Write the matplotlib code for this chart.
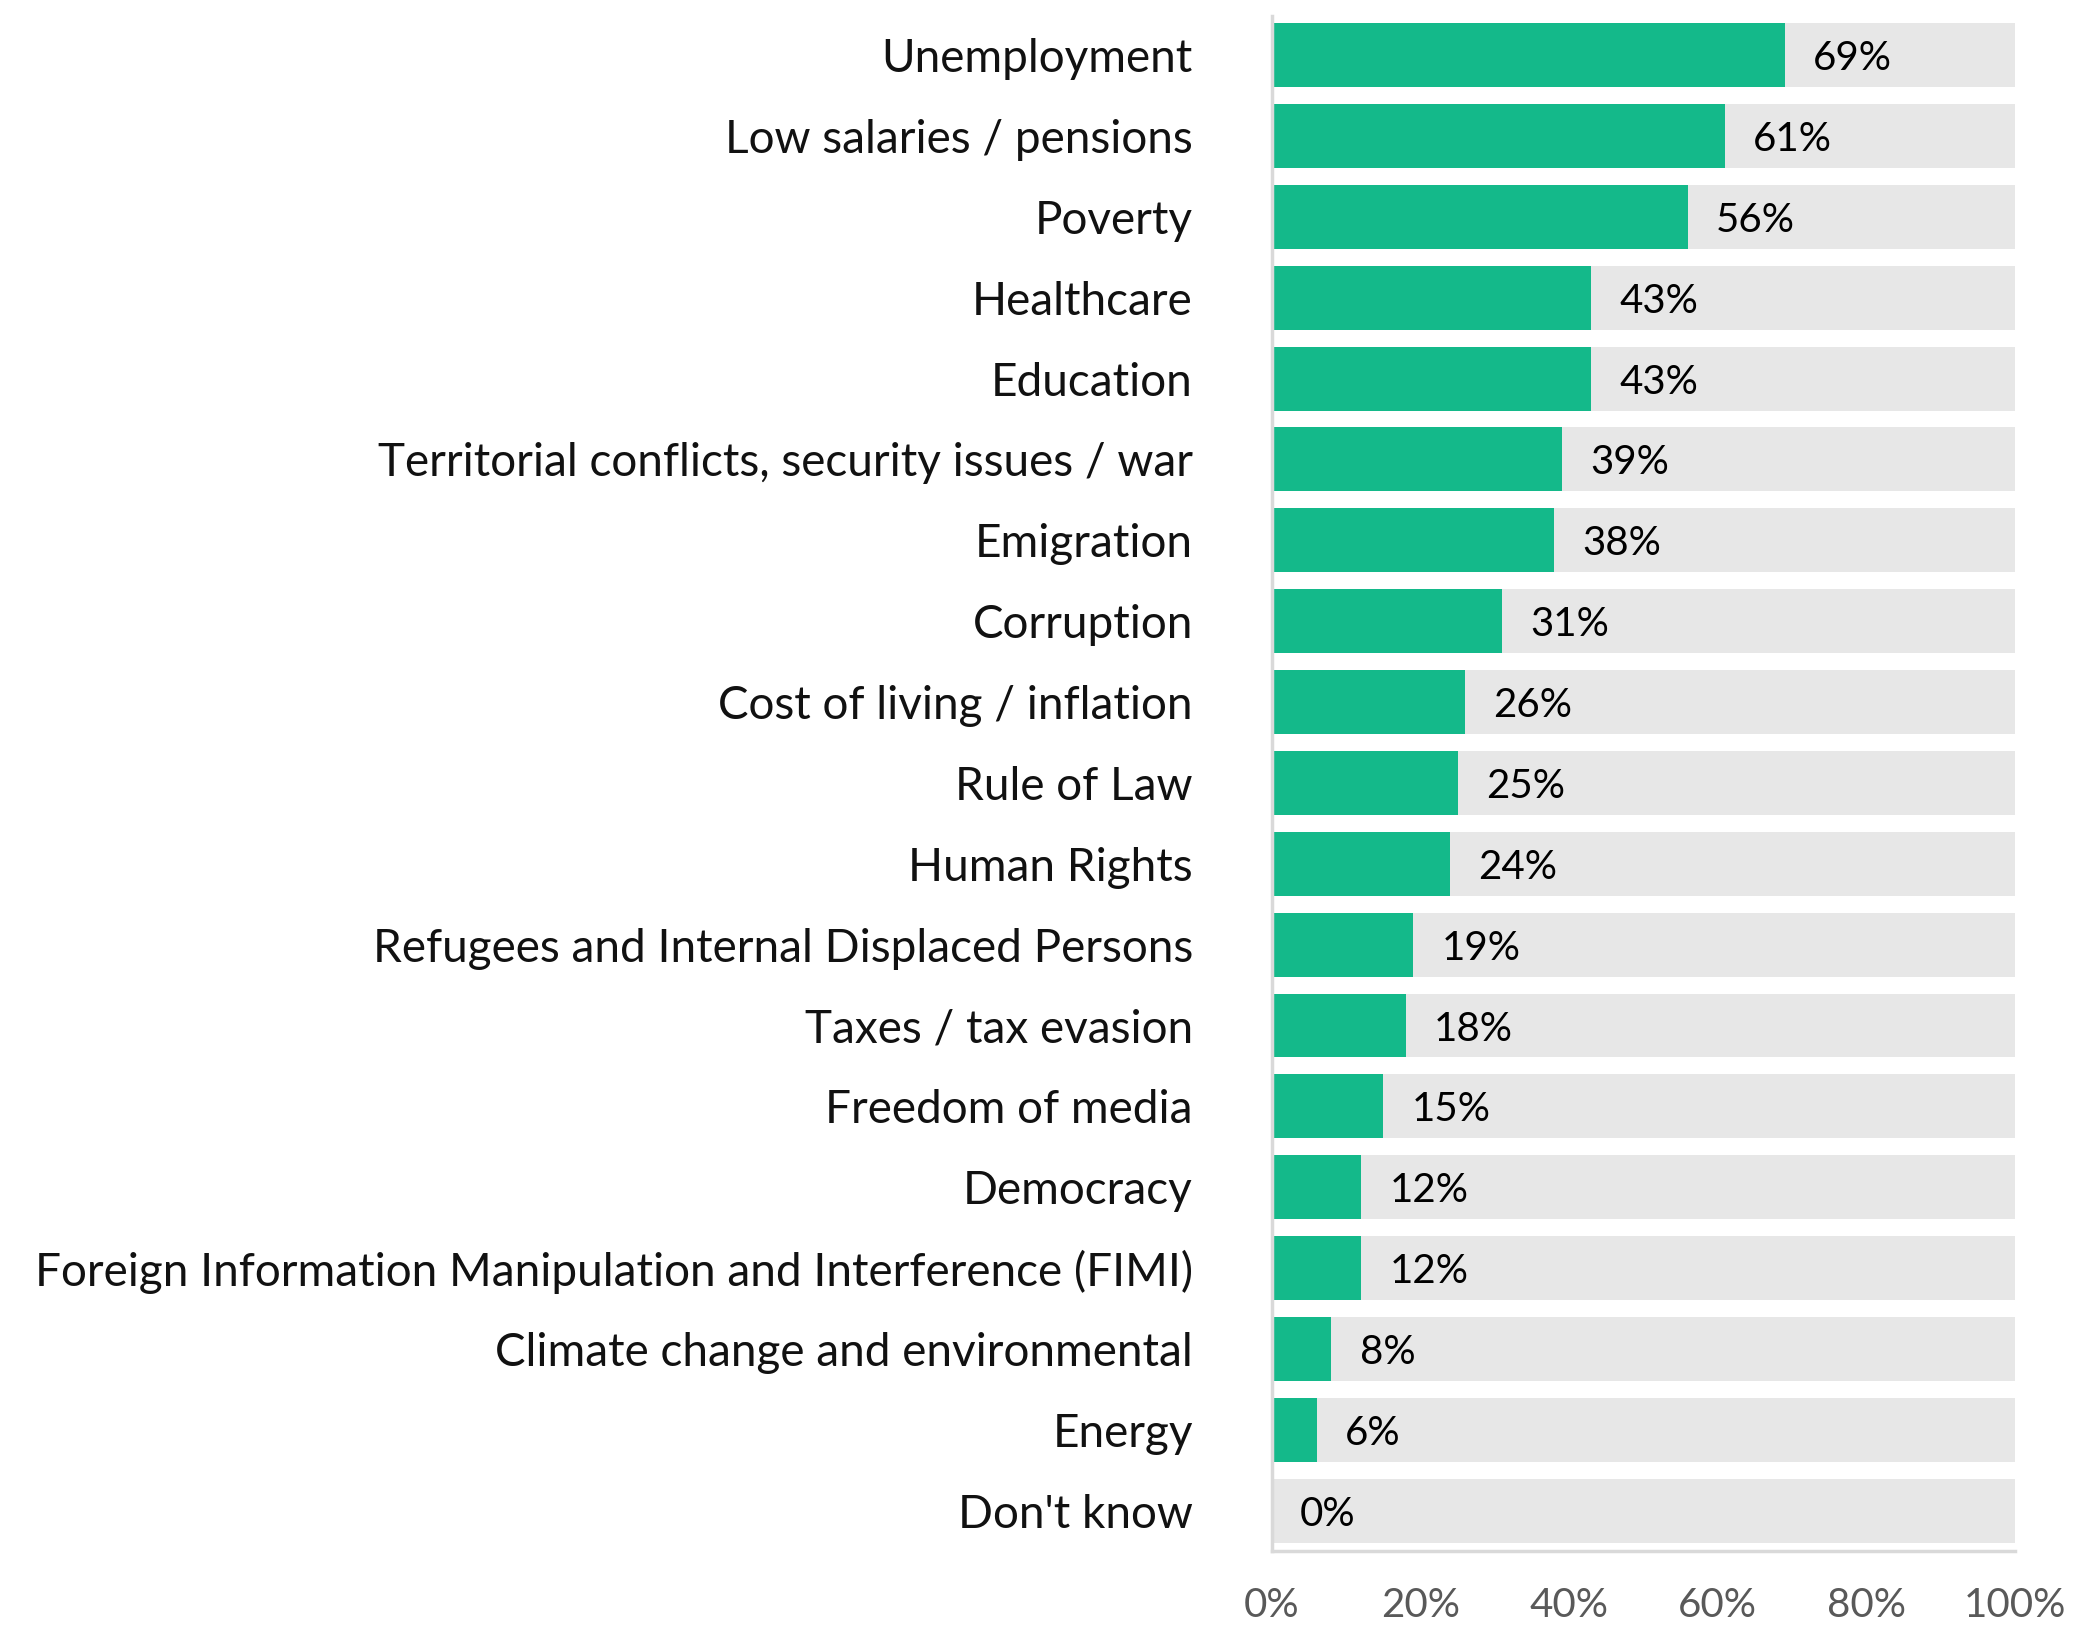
import matplotlib.pyplot as plt

categories = [
    "Unemployment",
    "Low salaries / pensions",
    "Poverty",
    "Healthcare",
    "Education",
    "Territorial conflicts, security issues / war",
    "Emigration",
    "Corruption",
    "Cost of living / inflation",
    "Rule of Law",
    "Human Rights",
    "Refugees and Internal Displaced Persons",
    "Taxes / tax evasion",
    "Freedom of media",
    "Democracy",
    "Foreign Information Manipulation and Interference (FIMI)",
    "Climate change and environmental",
    "Energy",
    "Don't know",
]
values = [69, 61, 56, 43, 43, 39, 38, 31, 26, 25, 24, 19, 18, 15, 12, 12, 8, 6, 0]
x_ticks = [0, 20, 40, 60, 80, 100]
x_tick_labels = [f"{t}%" for t in x_ticks]

GREEN = "#14b98a"
TRACK = "#e7e7e7"
AXIS = "#d9d9d9"

plt.rcParams["font.family"] = ["Lato", "DejaVu Sans"]

fig = plt.figure(figsize=(20.75, 16.26), dpi=100)
ax = fig.add_axes([0.613, 0.046, 0.358, 0.944])

y = list(range(len(categories)))
ax.barh(y, [100] * len(y), height=0.79, color=TRACK, zorder=1)
ax.barh(y, values, height=0.79, color=GREEN, zorder=2)

for yi, v in zip(y, values):
    ax.text(v + 3.8, yi, f"{v}%", va="center_baseline", ha="left",
            fontsize=29, color="black", zorder=3)

ax.set_xlim(0, 100)
ax.set_ylim(len(y) - 0.5, -0.48)
ax.set_yticks(y)
ax.set_yticklabels(categories, fontsize=33, color="#111111")
for lab in ax.get_yticklabels():
    lab.set_verticalalignment("center_baseline")
ax.set_xticks(x_ticks)
ax.set_xticklabels(x_tick_labels, fontsize=29, color="#595959")
ax.tick_params(axis="y", length=0, pad=57)
ax.tick_params(axis="x", length=0, pad=26)

for side in ["top", "right"]:
    ax.spines[side].set_visible(False)
for side in ["left", "bottom"]:
    ax.spines[side].set_color(AXIS)
    ax.spines[side].set_linewidth(2.5)

fig.savefig("out.png", dpi=100)
